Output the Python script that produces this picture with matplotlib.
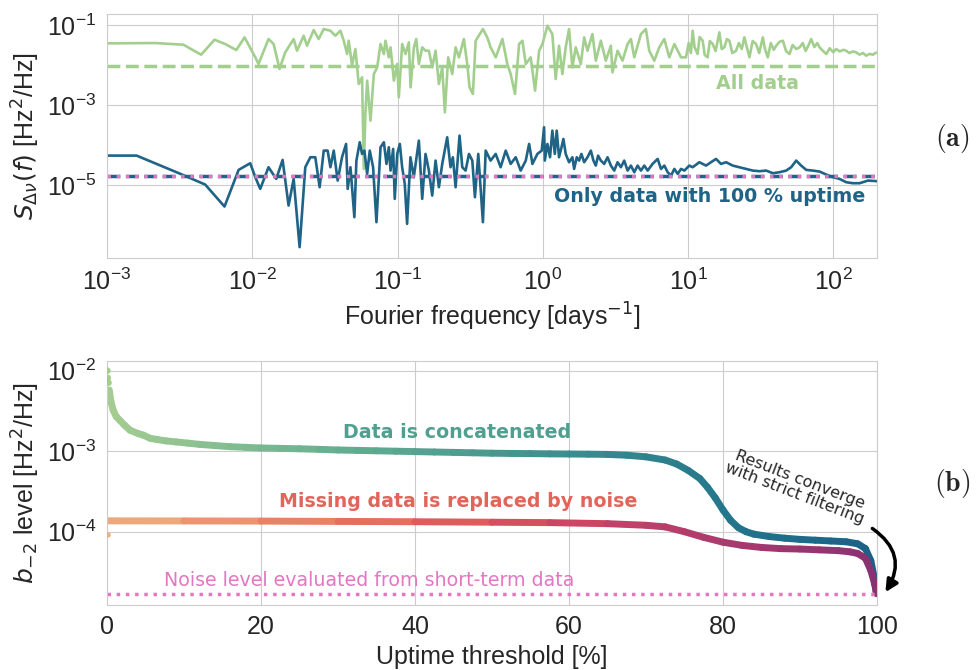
import numpy as np
import seaborn as sns
from matplotlib import pyplot as plt
from matplotlib.collections import LineCollection
from matplotlib.ticker import NullLocator

# ---- panel (a): spectra, stored as log10(f [1/day]) and log10(S [Hz^2/Hz])
all_logf = [-3.014, -2.669, -2.474, -2.352, -2.260, -2.186, -2.110, -2.053, -1.979,
            -1.957, -1.888, -1.853, -1.812, -1.773, -1.715, -1.692, -1.646, -1.623, -1.577,
            -1.543, -1.508, -1.462, -1.428, -1.393, -1.370, -1.347, -1.336, -1.313, -1.290,
            -1.267, -1.244, -1.232, -1.221, -1.209, -1.186, -1.163, -1.140, -1.117, -1.094,
            -1.083, -1.060, -1.048, -1.025, -1.002, -0.991, -0.968, -0.945, -0.922, -0.910,
            -0.887, -0.871, -0.853, -0.830, -0.807, -0.784, -0.761, -0.738, -0.715, -0.692,
            -0.674, -0.651, -0.623, -0.600, -0.577, -0.543, -0.520, -0.504, -0.481, -0.462,
            -0.412, -0.382, -0.359, -0.324, -0.278, -0.244, -0.221, -0.191, -0.163, -0.140,
            -0.117, -0.083, -0.053, -0.025, -0.002, 0.032, 0.066, 0.089, 0.112, 0.135, 0.158,
            0.181, 0.204, 0.227, 0.262, 0.285, 0.308, 0.342, 0.365, 0.400, 0.434, 0.469,
            0.480, 0.515, 0.549, 0.584, 0.607, 0.630, 0.676, 0.710, 0.733, 0.768, 0.802,
            0.837, 0.871, 0.906, 0.952,
            0.986, 1.005, 1.020, 1.032, 1.045, 1.066, 1.080, 1.101, 1.115, 1.135, 1.150,
            1.170, 1.190, 1.216, 1.232, 1.250, 1.268, 1.285, 1.305, 1.331, 1.350, 1.370,
            1.388, 1.405, 1.423, 1.445, 1.469, 1.490, 1.515, 1.530, 1.549, 1.570, 1.590,
            1.607, 1.630, 1.653, 1.675, 1.699, 1.720, 1.745, 1.768, 1.790, 1.810, 1.830,
            1.848, 1.870, 1.890, 1.906, 1.930, 1.952, 1.975, 2.000, 2.020, 2.045, 2.070,
            2.089, 2.110, 2.135, 2.158, 2.180, 2.205, 2.227, 2.250, 2.273, 2.290, 2.308]
all_logS = [-1.458, -1.450, -1.492, -1.742, -1.367, -1.475, -1.625, -1.308, -1.808,
            -1.975, -1.350, -1.475, -2.100, -1.683, -1.350, -1.642, -1.267, -1.517, -1.125,
            -1.350, -1.100, -1.142, -1.267, -1.142, -1.392, -1.725, -1.392, -2.017, -1.600,
            -2.475, -2.308, -4.600, -3.225, -2.392, -3.392, -2.225, -2.058, -1.475, -1.725,
            -1.392, -1.808, -1.558, -2.392, -1.975, -2.808, -1.475, -1.725, -1.433, -2.558,
            -1.558, -1.350, -1.975, -1.558, -1.642, -1.642, -2.058, -1.642, -2.475, -2.058,
            -3.183, -1.808, -2.225, -1.558, -1.808, -1.350, -1.975, -2.558, -2.725, -1.392,
            -1.100, -1.308, -1.558, -1.808, -1.350, -1.975, -2.225, -2.725, -1.475, -1.392,
            -1.975, -1.808, -2.642, -1.642, -1.475, -1.017, -1.225, -2.350, -1.517, -2.225,
            -1.558, -1.100, -2.058, -1.558, -1.975, -1.308, -1.642, -1.225, -1.892, -1.392,
            -1.892, -1.517, -2.183, -1.642, -1.892, -1.475, -1.350, -1.808, -1.225, -1.100,
            -1.642, -1.892, -1.558, -1.350, -1.808, -1.475, -1.808,
            -1.808, -1.45, -1.70, -1.142, -1.55, -1.725, -1.30, -1.392, -1.75, -1.808, -1.40,
            -1.475, -1.65, -1.183, -1.60, -1.558, -1.35, -1.392, -1.70, -1.642, -1.45, -1.60,
            -1.308, -1.55, -1.808, -1.40, -1.475, -1.70, -1.308, -1.60, -1.808, -1.45, -1.62,
            -1.517, -1.42, -1.392, -1.65, -1.725, -1.50, -1.60, -1.558, -1.45, -1.65, -1.50,
            -1.350, -1.55, -1.45, -1.558, -1.65, -1.725, -1.58, -1.68, -1.600, -1.66, -1.62,
            -1.642, -1.70, -1.66, -1.683, -1.74, -1.70, -1.767, -1.72, -1.742, -1.70, -1.683]

full_logf = [-3.014, -2.796, -2.494, -2.324, -2.191, -2.094, -2.014, -1.979, -1.945,
             -1.888, -1.835, -1.791, -1.750, -1.715, -1.674, -1.635, -1.600, -1.566, -1.536,
             -1.508, -1.481, -1.462, -1.439, -1.412, -1.382, -1.354, -1.343, -1.324, -1.297,
             -1.283, -1.260, -1.244, -1.228, -1.209, -1.191, -1.168, -1.145, -1.117, -1.094,
             -1.076, -1.060, -1.048, -1.030, -1.019, -1.002, -0.984, -0.968, -0.950, -0.934,
             -0.911, -0.888, -0.853, -0.830, -0.807, -0.784, -0.761, -0.738, -0.715, -0.692,
             -0.658, -0.635, -0.619, -0.600, -0.573, -0.554, -0.531, -0.508, -0.485, -0.467,
             -0.444, -0.412, -0.393, -0.359, -0.324, -0.290, -0.255, -0.221, -0.186, -0.152,
             -0.117, -0.094, -0.071, -0.037, -0.007, 0.009, 0.014, 0.032, 0.050, 0.066, 0.083,
             0.096, 0.112, 0.129, 0.142, 0.158, 0.181, 0.204, 0.216, 0.234, 0.250, 0.266,
             0.285, 0.308, 0.331, 0.349, 0.365, 0.381, 0.400, 0.423, 0.446, 0.469, 0.492,
             0.515, 0.538, 0.561, 0.584, 0.607, 0.630, 0.653, 0.676, 0.699, 0.722, 0.756,
             0.791, 0.814, 0.837, 0.860, 0.883, 0.906, 0.929, 0.952, 0.975, 1.009, 1.032,
             1.078, 1.124, 1.158, 1.193, 1.227, 1.262, 1.308, 1.354, 1.400, 1.446, 1.492,
             1.538, 1.584, 1.630, 1.676, 1.710, 1.745, 1.779, 1.814, 1.860, 1.906, 1.952,
             1.998, 2.043, 2.089, 2.135, 2.181, 2.239, 2.308]
full_logS = [-4.267, -4.267, -4.725, -4.992, -5.542, -4.625, -4.458, -4.808, -5.100,
             -4.558, -4.850, -4.375, -5.517, -4.850, -6.558, -4.558, -4.308, -4.308, -5.058,
             -4.142, -4.142, -4.558, -4.142, -4.892, -4.308, -3.975, -5.100, -4.558, -5.808,
             -4.392, -3.933, -4.225, -4.142, -4.725, -4.142, -4.558, -5.933, -4.058, -3.933,
             -4.475, -4.058, -4.642, -4.100, -5.350, -4.225, -3.975, -4.558, -4.975, -5.975,
             -4.308, -4.808, -3.892, -5.350, -4.225, -4.642, -5.267, -4.392, -5.058, -4.475,
             -3.808, -4.558, -4.308, -5.058, -3.767, -4.558, -4.642, -4.225, -4.392, -5.308,
             -4.225, -5.933, -4.142, -4.392, -4.225, -4.558, -4.142, -4.475, -4.308, -4.642,
             -4.392, -3.975, -4.475, -4.225, -4.142, -3.558, -4.392, -3.975, -4.308, -3.642,
             -4.225, -3.642, -4.308, -4.058, -3.850, -4.225, -4.433, -4.308, -4.600, -4.308,
             -4.392, -4.225, -4.433, -4.308, -4.142, -4.392, -4.517, -4.267, -4.392, -4.475,
             -4.308, -4.517, -4.642, -4.433, -4.558, -4.392, -4.642, -4.517, -4.683, -4.517,
             -4.642, -4.517, -4.642, -4.475, -4.350, -4.600, -4.517, -4.683, -4.767, -4.600,
             -4.725, -4.600, -4.642, -4.517, -4.558, -4.433, -4.517, -4.433, -4.350, -4.475,
             -4.433, -4.517, -4.558, -4.600, -4.642, -4.658, -4.642, -4.708, -4.683, -4.642,
             -4.558, -4.392, -4.517, -4.625, -4.642, -4.667, -4.742, -4.808, -4.850, -4.933,
             -4.958, -4.958, -4.892, -4.908]

all_level = 9.6e-3
full_level = 1.7e-5
noise_level = 1.7e-5

# ---- panel (b): b_-2 level versus uptime threshold, log10 values
concat_uptime = [0.3, 0.5, 0.8, 1.2, 1.7, 2.3, 3.0, 4.0, 4.7, 5.6, 6.5, 7.7, 9.0, 10.5, 12.0,
                 14.0, 16.0, 18.0, 20.0, 22.5, 25.0, 27.5, 30.0, 32.5, 35.0, 37.5, 40.0, 42.5,
                 45.0, 47.5, 50.0, 52.5, 55.0, 57.5, 60.0, 62.5, 65.0, 67.5, 70.0, 72.5, 74.0,
                 75.5, 77.0, 78.0, 79.0, 80.0, 81.0, 82.0, 83.0, 84.0, 86.0, 88.0, 90.0, 92.0,
                 94.0, 96.0, 97.5, 98.5, 99.2, 99.6, 99.9]
concat_logb = [-2.24, -2.38, -2.49, -2.57, -2.62, -2.68, -2.74, -2.78, -2.80, -2.84, -2.855,
               -2.873, -2.885, -2.90, -2.915, -2.93, -2.944, -2.952, -2.96, -2.965, -2.97,
               -2.977, -2.985, -2.99, -2.995, -3.0, -3.005, -3.01, -3.015, -3.02, -3.025,
               -3.028, -3.03, -3.033, -3.035, -3.037, -3.04, -3.05, -3.07, -3.11, -3.16, -3.24,
               -3.34, -3.45, -3.58, -3.73, -3.86, -3.95, -4.00, -4.03, -4.06, -4.08, -4.095,
               -4.105, -4.115, -4.125, -4.15, -4.21, -4.36, -4.55, -4.75]
concat_first_uptime = [0.05, 0.1, 0.2]
concat_first_logb = [-2.00, -2.09, -2.15]

noise_uptime = [0.0, 10.0, 20.0, 30.0, 40.0, 50.0, 57.5, 65.0, 70.0, 72.5, 75.0, 77.5, 80.0,
                82.5, 85.0, 87.5, 90.0, 92.5, 95.0, 96.5, 97.5, 98.5, 99.2, 99.7, 99.95]
noise_logb = [-3.865, -3.866, -3.868, -3.872, -3.876, -3.882, -3.887, -3.90, -3.92, -3.94,
              -4.00, -4.07, -4.13, -4.17, -4.195, -4.21, -4.215, -4.225, -4.235, -4.25, -4.27,
              -4.33, -4.48, -4.65, -4.77]
noise_first_uptime = [0.15]
noise_first_logb = [-4.04]

green = '#a3cf8e'
blue = '#1f6487'
pink = '#e377c2'

sns.set_style('whitegrid')
plt.rcParams['font.family'] = 'sans-serif'
plt.rcParams['font.sans-serif'] = ['Liberation Sans', 'DejaVu Sans']
plt.rcParams['mathtext.fontset'] = 'dejavusans'

crest = sns.color_palette('crest', as_cmap=True)
flare = sns.color_palette('flare', as_cmap=True)

fig = plt.figure(figsize=(9.79, 6.70), dpi=100)
ax1 = fig.add_axes([0.1093, 0.6149, 0.7865, 0.3641])
ax2 = fig.add_axes([0.1093, 0.0970, 0.7865, 0.3642])

# panel (a)
ax1.set_xscale('log')
ax1.set_yscale('log')
ax1.plot(10 ** np.array(all_logf), 10 ** np.array(all_logS), color=green, lw=1.9)
ax1.plot(10 ** np.array(full_logf), 10 ** np.array(full_logS), color=blue, lw=1.9)
ax1.axhline(all_level, color=green, ls='--', lw=2.5)
ax1.axhline(full_level, color=blue, ls='--', lw=2.5)
ax1.axhline(noise_level, color=pink, ls=':', lw=2.5)
ax1.set_xlim(1e-3, 200)
ax1.set_ylim(10 ** -6.83, 10 ** -0.725)
ax1.set_yticks([1e-1, 1e-3, 1e-5])
ax1.yaxis.set_minor_locator(NullLocator())
ax1.xaxis.set_minor_locator(NullLocator())
note = dict(family='DejaVu Sans', fontsize=13.7, ha='center', va='center')
ax1.text(30, 10 ** -2.47, 'All data', color=green, fontweight='bold', **note)
ax1.text(14, 10 ** -5.28, 'Only data with 100 % uptime', color=blue, fontweight='bold',
         **note)
ax1.set_xlabel('Fourier frequency [days$^{-1}$]', fontsize=18)
ax1.set_ylabel(r'$S_{\Delta\nu}(f)$ [Hz$^2$/Hz]', fontsize=18)


def gradient_line(ax, x, y, cmap, lo, hi):
    pts = np.column_stack([x, y])
    segs = np.stack([pts[:-1], pts[1:]], axis=1)
    lc = LineCollection(segs, cmap=cmap, norm=plt.Normalize(lo, hi), linewidths=5,
                        capstyle='round', joinstyle='round')
    lc.set_array((np.array(x[:-1]) + np.array(x[1:])) / 2)
    ax.add_collection(lc)


# panel (b)
ax2.set_yscale('log')
gradient_line(ax2, concat_uptime, 10 ** np.array(concat_logb), crest, 0, 135)
ax2.scatter(concat_first_uptime, 10 ** np.array(concat_first_logb), s=22, color=crest(0.0),
            edgecolors='none', zorder=3)
gradient_line(ax2, noise_uptime, 10 ** np.array(noise_logb), flare, 0, 135)
ax2.scatter(noise_first_uptime, 10 ** np.array(noise_first_logb), s=14, color=flare(0.0),
            edgecolors='none', zorder=3)
ax2.axhline(noise_level, color=pink, ls=':', lw=2.5)
ax2.set_xlim(0, 100)
ax2.set_ylim(10 ** -4.91, 10 ** -1.88)
ax2.set_yticks([1e-2, 1e-3, 1e-4])
ax2.yaxis.set_minor_locator(NullLocator())
ax2.text(45.5, 10 ** -2.77, 'Data is concatenated', color=crest(0.33), fontweight='bold',
         **note)
ax2.text(45.6, 10 ** -3.62, 'Missing data is replaced by noise', color=flare(0.3),
         fontweight='bold', **note)
ax2.text(34, 10 ** -4.6, 'Noise level evaluated from short-term data', color=pink, **note)
ax2.text(89.6, 10 ** -3.44, 'Results converge\nwith strict filtering', fontsize=11.5,
         rotation=-21, ha='center', va='center', family='DejaVu Sans', linespacing=1.05)
ax2.annotate('', xy=(100.9, 10 ** -4.78), xytext=(99.1, 10 ** -3.94),
             arrowprops=dict(arrowstyle='-|>', color='black', lw=2.5,
                             connectionstyle='arc3,rad=-0.5', mutation_scale=18),
             annotation_clip=False)
ax2.set_xlabel('Uptime threshold [%]', fontsize=18)
ax2.set_ylabel(r'$b_{-2}$ level [Hz$^2$/Hz]', fontsize=18)

for ax in (ax1, ax2):
    ax.tick_params(labelsize=18, pad=4)

fig.text(0.973, 0.794, r'$\mathbf{(a)}$', fontsize=20, ha='center', va='center',
         math_fontfamily='cm')
fig.text(0.973, 0.279, r'$\mathbf{(b)}$', fontsize=20, ha='center', va='center',
         math_fontfamily='cm')

fig.savefig('out.png', dpi=100)
